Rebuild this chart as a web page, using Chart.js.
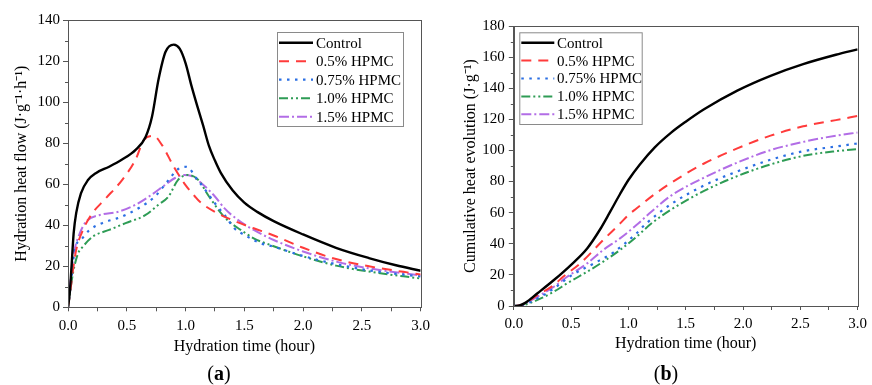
<!DOCTYPE html>
<html>
<head>
<meta charset="utf-8">
<script src="https://cdn.jsdelivr.net/npm/chart.js@4"></script>
<style>
  html, body { margin: 0; padding: 0; background: #fff; }
  #wrap { position: relative; width: 872px; height: 385px; background: #fff; overflow: hidden; }
  .pane { position: absolute; top: 0; width: 436px; height: 385px; }
  .lab { position: absolute; top: 361px; width: 40px; margin-left: -20px; text-align: center;
         font-family: "Liberation Serif", "Times New Roman", serif; font-size: 20px; color: #000; line-height: 24px; }
</style>
</head>
<body>
<div id="wrap">
  <div class="pane" style="left:0"><canvas id="c1" width="436" height="385"></canvas></div>
  <div class="pane" style="left:436px"><canvas id="c2" width="436" height="385"></canvas></div>
  <div class="lab" style="left:219px">(<b>a</b>)</div>
  <div class="lab" style="left:666px">(<b>b</b>)</div>
</div>
<script>
// ---------- data ----------
const seriesNames = ['Control', '0.5% HPMC', '0.75% HPMC', '1.0% HPMC', '1.5% HPMC'];
const xTickLabels = ['0.0', '0.5', '1.0', '1.5', '2.0', '2.5', '3.0'];

// (a) hydration heat flow, J/(g*h)
const flowTimeControl = [0, 0.015, 0.028, 0.048, 0.07, 0.11, 0.17, 0.24, 0.35, 0.46, 0.575, 0.66, 0.715, 0.77, 0.83, 0.9, 0.95, 1.0, 1.05, 1.1, 1.15, 1.2, 1.25, 1.3, 1.4, 1.5, 1.61, 1.75, 2.0, 2.28, 2.56, 2.79, 3.0];
const flowControl     = [0, 7, 18, 36, 46, 55.5, 62, 65.5, 68.5, 72, 76.7, 83, 93, 111, 124.5, 128, 126, 119, 108, 98, 88.5, 78.5, 71.5, 65.5, 57, 51, 46.5, 42, 35.5, 29, 24, 20.5, 17.8];

const flowTime05 = [0, 0.02, 0.042, 0.07, 0.13, 0.21, 0.32, 0.46, 0.575, 0.645, 0.73, 0.8, 0.9, 1.0, 1.08, 1.12, 1.25, 1.44, 1.58, 1.75, 2.0, 2.28, 2.56, 3.0];
const flow05     = [0, 8, 18, 28, 38, 46, 53, 62, 72, 81.5, 83.5, 79, 68.5, 59.5, 54, 51.5, 46.5, 41.5, 38.5, 35, 29, 23.5, 20, 16];

const flowTime075 = [0, 0.028, 0.056, 0.113, 0.18, 0.29, 0.45, 0.6, 0.74, 0.855, 0.94, 1.01, 1.09, 1.19, 1.25, 1.345, 1.415, 1.5, 1.64, 1.75, 2.0, 2.28, 2.56, 3.0];
const flow075     = [0, 13, 28, 33, 37.5, 41, 44, 48.3, 54, 62, 67.5, 68.5, 63, 55.5, 50.7, 44, 38.5, 35.3, 31.2, 29.5, 25, 21, 18, 15];

const flowTime10 = [0, 0.042, 0.084, 0.126, 0.21, 0.35, 0.49, 0.66, 0.77, 0.855, 0.935, 1.02, 1.1, 1.2, 1.3, 1.37, 1.47, 1.58, 1.72, 2.0, 2.28, 2.56, 3.0];
const flow10     = [0, 16.5, 26, 29.5, 34.4, 37.7, 41, 45, 50, 54, 62, 64.5, 62.5, 54, 46, 41.8, 37.7, 33.6, 30.4, 24.8, 20.3, 17.4, 14];

const flowTime15 = [0, 0.028, 0.056, 0.1, 0.155, 0.27, 0.43, 0.575, 0.71, 0.827, 0.91, 0.99, 1.05, 1.135, 1.25, 1.33, 1.445, 1.58, 1.75, 2.0, 2.28, 2.56, 3.0];
const flow15     = [0, 16.5, 28, 36, 41.8, 45, 46.6, 50, 54.8, 59.7, 63, 64.5, 64, 60.5, 54, 48.3, 42.6, 37.7, 32.8, 27.2, 22.3, 19, 15.5];

// (b) cumulative heat evolution, J/g
const cumTimeControl = [0, 0.05, 0.1, 0.207, 0.35, 0.5, 0.64, 0.755, 0.84, 0.927, 1.0, 1.1, 1.23, 1.373, 1.5, 1.66, 1.95, 2.24, 2.525, 2.81, 3.0];
const cumControl     = [0, 0.3, 2, 8.2, 16.7, 26.5, 37, 49.5, 60.5, 72, 81, 91, 102, 111.5, 118.5, 126.5, 138.5, 148, 155.5, 161.5, 165];

const cumTime05 = [0, 0.05, 0.207, 0.35, 0.43, 0.58, 0.78, 0.927, 1.0, 1.07, 1.25, 1.5, 1.66, 1.95, 2.24, 2.525, 2.81, 3.0];
const cum05     = [0, 0.3, 7, 13.5, 18.8, 27.4, 42.4, 53, 58.5, 62.7, 73, 85, 91.6, 101.3, 109.5, 115.5, 119.5, 122.2];

const cumTime075 = [0, 0.05, 0.207, 0.35, 0.5, 0.7, 0.87, 1.07, 1.155, 1.373, 1.66, 1.95, 2.24, 2.525, 2.81, 3.0];
const cum075     = [0, 0.2, 4.9, 11.3, 19.5, 27.4, 34.5, 46.7, 53, 65.5, 77.5, 86.5, 94, 99.5, 102.5, 104.5];

const cumTime10 = [0, 0.06, 0.207, 0.35, 0.466, 0.64, 0.78, 0.927, 1.07, 1.2, 1.373, 1.66, 1.95, 2.24, 2.525, 2.81, 3.0];
const cum10     = [0, 0.2, 3.9, 9.2, 14.6, 22, 28.5, 36, 44.5, 53, 62, 74, 83.5, 91, 96.5, 99.5, 100.8];

const cumTime15 = [0, 0.05, 0.207, 0.35, 0.466, 0.64, 0.78, 0.927, 1.07, 1.2, 1.373, 1.66, 1.95, 2.24, 2.525, 2.81, 3.0];
const cum15     = [0, 0.3, 6, 12.4, 18.8, 27.4, 36, 43.5, 52, 60.6, 71, 82.5, 92.2, 100.2, 105.5, 109.5, 111.5];

// ---------- styling ----------
const FONT = '"Liberation Serif", "Times New Roman", serif';
const styles = [
  { color: '#000000', width: 2.4, dash: [] },
  { color: '#ff3b3b', width: 2, dash: [10, 7] },
  { color: '#2b6fe3', width: 2.2, dash: [2.5, 5.5] },
  { color: '#2e9c55', width: 2, dash: [9, 3, 2, 3, 2, 3] },
  { color: '#b26de6', width: 2, dash: [10, 3, 2, 3] }
];

function pts(t, v) { return t.map((x, i) => ({ x: x, y: v[i] })); }
function makeDatasets(pairs) {
  return pairs.map((p, i) => ({
    label: seriesNames[i],
    data: pts(p[0], p[1]),
    borderColor: styles[i].color,
    backgroundColor: styles[i].color,
    borderWidth: styles[i].width,
    borderDash: styles[i].dash,
    pointRadius: 0,
    fill: false,
    cubicInterpolationMode: 'monotone',
    borderCapStyle: 'butt'
  }));
}

// frame + minor y ticks
const framePlugin = {
  id: 'framePlugin',
  afterDraw(chart, args, opts) {
    const { ctx, chartArea: a } = chart;
    const ys = chart.scales.y;
    ctx.save();
    ctx.strokeStyle = '#555';
    ctx.lineWidth = 1;
    ctx.setLineDash([]);
    ctx.strokeRect(Math.round(a.left) + 0.5, Math.round(a.top) + 0.5, Math.round(a.right - a.left), Math.round(a.bottom - a.top));
    ctx.beginPath();
    for (let v = opts.minorStep; v < ys.max; v += opts.minorStep * 2) {
      const py = Math.round(ys.getPixelForValue(v)) + 0.5;
      ctx.moveTo(a.left - 3, py);
      ctx.lineTo(a.left, py);
    }
    ctx.stroke();
    ctx.restore();
  }
};

// boxed legend inside the plot
const boxLegend = {
  id: 'boxLegend',
  afterDraw(chart, args, o) {
    const ctx = chart.ctx;
    ctx.save();
    ctx.fillStyle = '#fff';
    ctx.fillRect(o.x, o.y, o.w, o.h);
    ctx.strokeStyle = '#8a8a8a';
    ctx.lineWidth = 1;
    ctx.setLineDash([]);
    ctx.strokeRect(o.x + 0.5, o.y + 0.5, o.w, o.h);
    chart.data.datasets.forEach((ds, i) => {
      const cy = o.y + o.first + i * o.row;
      ctx.beginPath();
      ctx.setLineDash(ds.borderDash || []);
      ctx.strokeStyle = ds.borderColor;
      ctx.lineWidth = ds.borderWidth;
      ctx.moveTo(o.x + 2, cy);
      ctx.lineTo(o.x + 2 + o.len, cy);
      ctx.stroke();
      ctx.setLineDash([]);
      ctx.fillStyle = '#000';
      ctx.font = '15px ' + FONT;
      ctx.textBaseline = 'middle';
      ctx.textAlign = 'left';
      ctx.fillText(ds.label, o.x + o.tx, cy + 1);
    });
    ctx.restore();
  }
};

function xLabel(v) {
  const k = Math.round(v * 2);
  return Math.abs(v * 2 - k) < 1e-6 ? xTickLabels[k] : '';
}

function makeChart(id, datasets, cfg) {
  return new Chart(document.getElementById(id), {
    type: 'line',
    data: { datasets: datasets },
    plugins: [framePlugin, boxLegend],
    options: {
      responsive: false,
      animation: false,
      events: [],
      layout: { padding: cfg.padding },
      plugins: {
        legend: { display: false },
        tooltip: { enabled: false },
        framePlugin: { minorStep: 10 },
        boxLegend: cfg.legend
      },
      scales: {
        x: {
          type: 'linear', min: 0, max: 3,
          afterFit: s => { s.height = cfg.xHeight; },
          border: { display: true, color: '#555', width: 1 },
          grid: { drawOnChartArea: false, drawTicks: true, tickLength: 4, tickColor: '#555' },
          ticks: { stepSize: 0.25, autoSkip: false, maxRotation: 0, padding: cfg.xPad, color: '#000',
                   font: { family: FONT, size: 15 }, callback: xLabel },
          title: { display: true, text: 'Hydration time (hour)', color: '#000',
                   font: { family: FONT, size: 16 }, padding: { top: 0, bottom: 0 } }
        },
        y: {
          type: 'linear', min: 0, max: cfg.yMax,
          afterFit: s => { s.width = cfg.yWidth; },
          border: { display: true, color: '#555', width: 1 },
          grid: { drawOnChartArea: false, drawTicks: true, tickLength: 5, tickColor: '#555' },
          ticks: { stepSize: 20, padding: cfg.yPad, color: '#000', font: { family: FONT, size: 15 } },
          title: { display: true, text: cfg.yTitle, color: '#000',
                   font: { family: FONT, size: 16 }, padding: { top: 0, bottom: 0 } }
        }
      }
    }
  });
}

makeChart('c1', makeDatasets([
  [flowTimeControl, flowControl], [flowTime05, flow05], [flowTime075, flow075],
  [flowTime10, flow10], [flowTime15, flow15]
]), {
  padding: { left: 12, right: 11, top: 20, bottom: 29 },
  yWidth: 56, xHeight: 48.7, xPad: 6, yPad: 3, yMax: 140,
  yTitle: 'Hydration heat flow (J·g⁻¹·h⁻¹)',
  legend: { x: 277, y: 32, w: 126, h: 94, first: 10.7, row: 18.5, len: 34, tx: 39 }
});

makeChart('c2', makeDatasets([
  [cumTimeControl, cumControl], [cumTime05, cum05], [cumTime075, cum075],
  [cumTime10, cum10], [cumTime15, cum15]
]), {
  padding: { left: 25.4, right: 10.3, top: 26, bottom: 32 },
  yWidth: 52.4, xHeight: 47, xPad: 5, yPad: 4, yMax: 180,
  yTitle: 'Cumulative heat evolution (J·g⁻¹)',
  legend: { x: 83.3, y: 32.3, w: 122.4, h: 91.7, first: 10.4, row: 17.9, len: 33, tx: 37.7 }
});
</script>
</body>
</html>
